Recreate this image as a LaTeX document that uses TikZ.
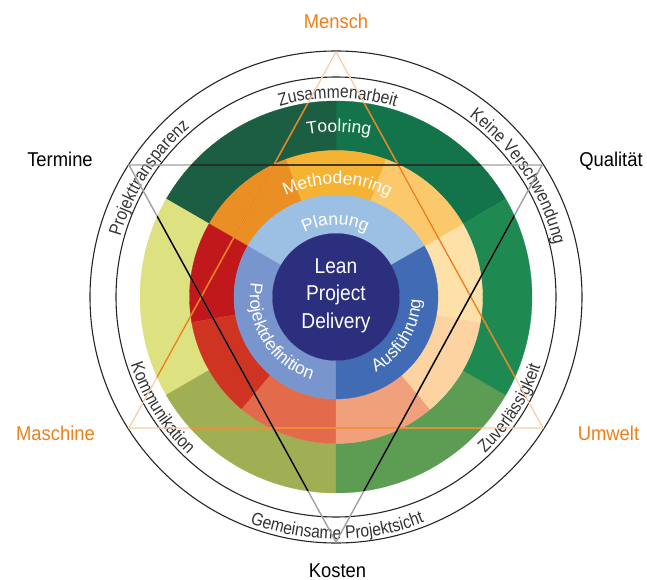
\documentclass[tikz,border=0pt]{standalone}
\usepackage{fontspec}
\setmainfont{Liberation Sans}
\newfontfamily\outerfont[FakeStretch=0.92]{Liberation Sans}
\newfontfamily\arcfont[FakeStretch=0.87]{Liberation Sans}
\newfontfamily\ringfont{Liberation Sans}
\newfontfamily\corefont[FakeStretch=0.89]{Liberation Sans}
\usetikzlibrary{decorations.text}

\definecolor{lpdblue}{HTML}{2B2F7E}
\definecolor{planung}{HTML}{9CBFE4}
\definecolor{projdef}{HTML}{7896CD}
\definecolor{ausf}{HTML}{416BB4}
\definecolor{methA}{HTML}{F6B333}
\definecolor{methB}{HTML}{E98F24}
\definecolor{methC}{HTML}{C1181C}
\definecolor{methD}{HTML}{CF3423}
\definecolor{methE}{HTML}{E36B4B}
\definecolor{methF}{HTML}{F1A07C}
\definecolor{methG}{HTML}{FCD3A1}
\definecolor{methH}{HTML}{FEE1A8}
\definecolor{methI}{HTML}{FCC86C}
\definecolor{toolA}{HTML}{13734B}
\definecolor{toolB}{HTML}{1B5E42}
\definecolor{toolC}{HTML}{DEE17F}
\definecolor{toolD}{HTML}{A0AE54}
\definecolor{toolE}{HTML}{5C9D53}
\definecolor{toolF}{HTML}{1E8A52}
\definecolor{labelorange}{HTML}{EE7F1A}
\definecolor{triorange}{HTML}{EE7A12}
\definecolor{tripeach}{HTML}{FCCBA2}
\definecolor{trigray}{HTML}{A0A0A0}

\newcommand{\arctype}{\arcfont\fontsize{18}{21}\selectfont\color{black!80}}
\newcommand{\ringtype}{\ringfont\fontsize{17.5}{21}\selectfont\color{white}}

\tikzset{
	seg/.style={fill=#1, draw=#1, line width=0.3pt},
	ringlabel/.style={decorate, decoration={text along path, text align=center, text={#1}}},
	guide/.style={draw=black!85, line width=1.1pt},
	outer/.style={font=\outerfont\fontsize{20}{24}\selectfont, inner sep=0pt, anchor=base},
	trimain/.style={line width=1.4pt},
}

\begin{document}
\begin{tikzpicture}[x=1pt, y=1pt]
	\useasboundingbox (-336,-283) rectangle (311,297);
	% tool ring
	\foreach \a/\b/\c in {30/90/toolA, 90/150/toolB, 150/210/toolC, 210/270/toolD, 270/330/toolE, 330/390/toolF}
		\path[seg=\c] (\a:146.5) arc[start angle=\a, end angle=\b, radius=146.5]
			-- (\b:196) arc[start angle=\b, end angle=\a, radius=196] -- cycle;
	% method ring
	\foreach \a/\b/\c in {70/110/methA, 110/150/methB, 150/190/methC, 190/230/methD, 230/270/methE,
			270/310/methF, 310/350/methG, 350/390/methH, 30/70/methI}
		\path[seg=\c] (\a:102) arc[start angle=\a, end angle=\b, radius=102]
			-- (\b:146.5) arc[start angle=\b, end angle=\a, radius=146.5] -- cycle;
	% phases
	\foreach \a/\b/\c in {30/150/planung, 150/270/projdef, 270/390/ausf}
		\path[seg=\c] (\a:63.5) arc[start angle=\a, end angle=\b, radius=63.5]
			-- (\b:102) arc[start angle=\b, end angle=\a, radius=102] -- cycle;
	\path[seg=lpdblue] (0,0) circle[radius=63.5];
	\node[align=center, font=\corefont\fontsize{21.5}{27.5}\selectfont, text=white, inner sep=0pt] (lpd) at (0,1.6) {Lean\\Project\\Delivery};

	% white ring names
	\path[ringlabel={|\ringtype|Toolring}] (139:165) arc[start angle=139, end angle=39, radius=165];
	\path[ringlabel={|\ringtype|Methodenring}] (149.3:113) arc[start angle=149.3, end angle=29.3, radius=113];
	\path[ringlabel={|\ringtype|Planung}] (150.5:72) arc[start angle=150.5, end angle=30.5, radius=72];
	\path[ringlabel={|\ringtype|Projektdefinition}] (142:86) arc[start angle=142, end angle=282, radius=86];
	\path[ringlabel={|\ringtype|Ausführung}] (268:85) arc[start angle=268, end angle=388, radius=85];

	% guide circles
	\draw[guide] (0,0) circle[radius=220];
	\draw[guide] (0,0) circle[radius=246];

	% principles
	\path[ringlabel={|\arctype|Zusammenarbeit}] (149.5:199) arc[start angle=149.5, end angle=29.5, radius=199];
	\path[ringlabel={|\arctype|Keine Verschwendung}] (93.5:224) arc[start angle=93.5, end angle=-26.5, radius=224];
	\path[ringlabel={|\arctype|Projekttransparenz}] (207.5:224) arc[start angle=207.5, end angle=87.5, radius=224];
	\path[ringlabel={|\arctype|Kommunikation}] (162.5:216) arc[start angle=162.5, end angle=262.5, radius=216];
	\path[ringlabel={|\arctype|Zuverlässigkeit}] (277.5:216) arc[start angle=277.5, end angle=377.5, radius=216];
	\path[ringlabel={|\arctype|Gemeinsame Projektsicht}] (210.3:242) arc[start angle=210.3, end angle=330.3, radius=242];

	% triangles
	\coordinate (mensch-c) at (0,245);
	\coordinate (maschine-c) at (-207,-131);
	\coordinate (umwelt-c) at (207,-131);
	\coordinate (termine-c) at (-207,132);
	\coordinate (qualitaet-c) at (206,132);
	\coordinate (kosten-c) at (0,-245);
	\draw[trimain, line width=1.2pt, tripeach] (mensch-c) -- (umwelt-c) -- (maschine-c) -- cycle;
	\draw[trimain, trigray] (termine-c) -- (qualitaet-c) -- (kosten-c) -- cycle;
	\begin{scope}
		\clip (0,0) circle[radius=196];
		\draw[trimain, line width=1.2pt, triorange] (mensch-c) -- (umwelt-c) -- (maschine-c) -- cycle;
		\draw[trimain, black] (termine-c) -- (qualitaet-c) -- (kosten-c) -- cycle;
	\end{scope}

	% corner labels
	\node[outer, text=labelorange] (mensch) at (0,268) {Mensch};
	\node[outer, text=labelorange] (maschine) at (-280.5,-143) {Maschine};
	\node[outer, text=labelorange] (umwelt) at (272.5,-143) {Umwelt};
	\node[outer] (termine) at (-276,130) {Termine};
	\node[outer] (qualitaet) at (275,130) {Qualität};
	\node[outer] (kosten) at (1.5,-280) {Kosten};
\end{tikzpicture}
\end{document}
